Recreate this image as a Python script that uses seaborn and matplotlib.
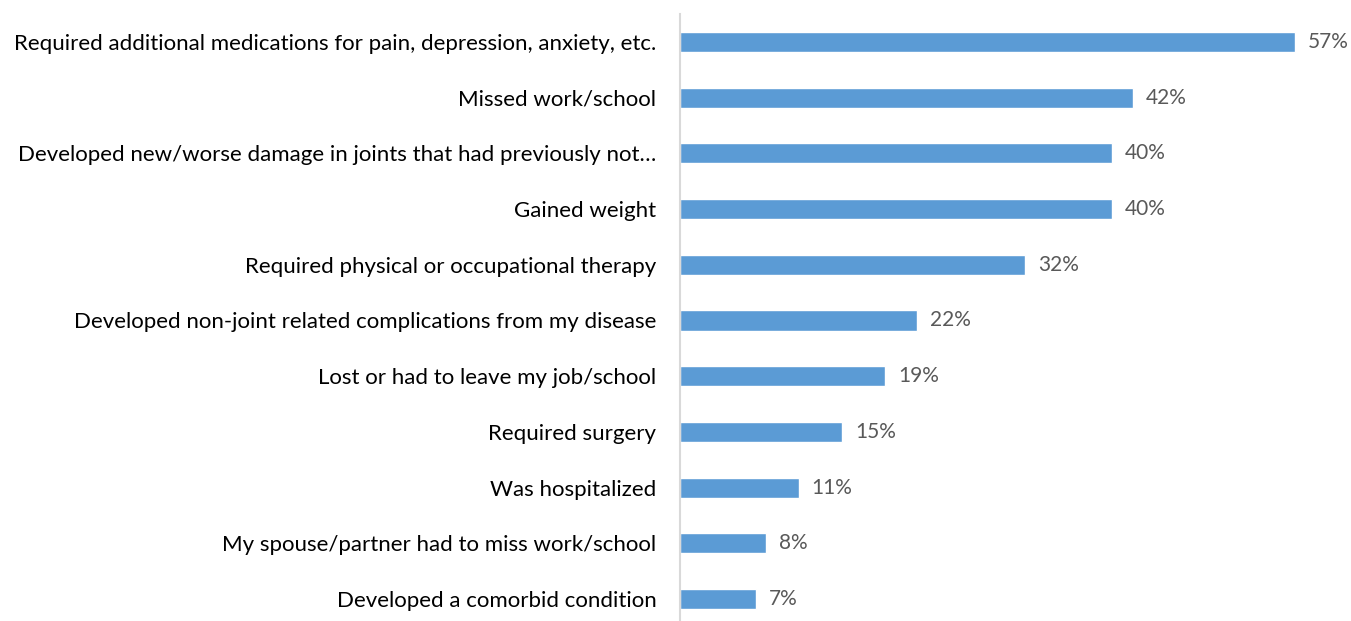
import pandas as pd
import matplotlib
matplotlib.use('Agg')
import matplotlib.pyplot as plt
import seaborn as sns

# Data
labels = [
    'Required additional medications for pain, depression, anxiety, etc.',
    'Missed work/school',
    'Developed new/worse damage in joints that had previously not\u2026',
    'Gained weight',
    'Required physical or occupational therapy',
    'Developed non-joint related complications from my disease',
    'Lost or had to leave my job/school',
    'Required surgery',
    'Was hospitalized',
    'My spouse/partner had to miss work/school',
    'Developed a comorbid condition',
]
values = [57, 42, 40, 40, 32, 22, 19, 15, 11, 8, 7]

df = pd.DataFrame({'label': labels, 'value': values})

sns.set_theme(style='white')
plt.rcParams['font.family'] = ['Lato', 'DejaVu Sans']

fig = plt.figure(figsize=(13.51, 6.21), dpi=100)
ax = fig.add_axes([680 / 1351, -6 / 621, 1 - 680 / 1351, 1 - 14 / 621 + 6 / 621])

sns.barplot(data=df, x='value', y='label', color='#5B9BD5', saturation=1,
            width=0.36, ax=ax, orient='h')

# value labels
for i, v in enumerate(values):
    ax.text(v + 1.2, i, f'{v}%', va='center', ha='left', fontsize=15, color='#595959')

ax.set_xlim(0, (1351 - 680) / 10.79)
ax.set_ylim(10.5, -0.5)
ax.set_xlabel('')
ax.set_ylabel('')
ax.set_xticks([])
ax.tick_params(axis='y', length=0, pad=17, labelsize=16, labelcolor='#000000')

for s in ['top', 'right', 'bottom']:
    ax.spines[s].set_visible(False)
ax.spines['left'].set_color('#D9D9D9')
ax.spines['left'].set_linewidth(1.5)

fig.savefig('out.png', dpi=100)
